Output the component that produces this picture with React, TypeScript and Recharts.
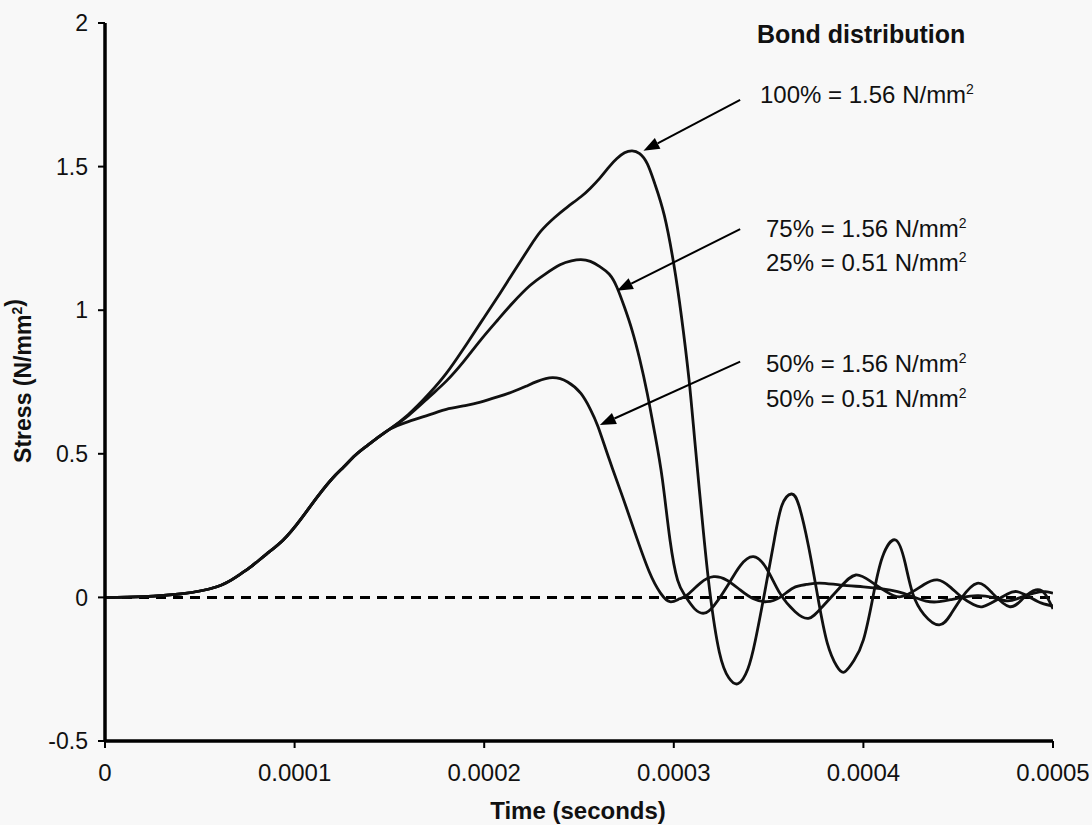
import React from 'react';
import { LineChart, Line, XAxis, YAxis, ReferenceLine } from 'recharts';

// time in microseconds, stress in N/mm²
const riseTime = [0, 20, 40, 59, 70, 77, 85, 94, 103, 112, 120, 126, 132, 138, 144, 150];
const riseStress = [0, 0.003, 0.012, 0.037, 0.075, 0.107, 0.15, 0.2, 0.27, 0.35, 0.415, 0.455, 0.495, 0.527, 0.557, 0.585];

// 100% = 1.56 N/mm²
const bond100Time = [...riseTime, 160, 171, 180, 189, 198, 207, 215, 224, 230, 237, 244, 251, 256, 261, 266, 270, 274, 278, 282, 286, 290, 295, 300, 304, 308, 311, 315, 319, 324, 329, 334, 339, 343, 348, 353, 357, 362, 366, 371, 376, 381, 386, 390, 395, 400, 405, 410, 417, 422, 426, 432, 440, 446, 452, 460, 468, 477, 484, 491, 496, 500];
const bond100Stress = [...riseStress, 0.637, 0.71, 0.78, 0.865, 0.955, 1.045, 1.128, 1.22, 1.276, 1.322, 1.36, 1.395, 1.425, 1.46, 1.5, 1.528, 1.548, 1.555, 1.545, 1.51, 1.44, 1.33, 1.16, 0.98, 0.76, 0.55, 0.27, 0.02, -0.19, -0.28, -0.3, -0.25, -0.15, 0.02, 0.2, 0.32, 0.36, 0.32, 0.18, 0.0, -0.16, -0.24, -0.26, -0.22, -0.148, 0.0, 0.14, 0.2, 0.12, 0.014, -0.06, -0.096, -0.06, 0.0, 0.049, 0.015, -0.032, -0.005, 0.026, 0.01, -0.04];

// 75% = 1.56, 25% = 0.51 N/mm²
const bond75Time = [...riseTime, 160, 171, 180, 189, 198, 207, 215, 224, 232, 240, 246, 251, 256, 261, 266, 270, 274, 278, 282, 286, 290, 294, 298, 302, 306, 311, 316, 321, 328, 335, 342, 349, 356, 364, 371, 378, 388, 396, 404, 412, 419, 426, 432, 439, 446, 452, 458, 463, 470, 476, 481, 488, 494, 500];
const bond75Stress = [...riseStress, 0.633, 0.698, 0.753, 0.82, 0.895, 0.965, 1.025, 1.085, 1.125, 1.158, 1.172, 1.176, 1.17, 1.152, 1.125, 1.08, 1.01, 0.93, 0.83, 0.71, 0.57, 0.41, 0.2, 0.06, 0.005, -0.04, -0.055, -0.03, 0.037, 0.11, 0.142, 0.1, 0.014, -0.05, -0.073, -0.035, 0.037, 0.078, 0.055, 0.02, 0.002, 0.02, 0.045, 0.061, 0.035, 0.0, -0.025, -0.032, -0.01, 0.012, 0.02, 0.0, -0.02, -0.03];

// 50% = 1.56, 50% = 0.51 N/mm²
const bond50Time = [...riseTime, 160, 173, 180, 190, 198, 207, 215, 222, 228, 236, 244, 251, 256, 260, 266, 273, 279, 287, 293, 298, 303, 307, 314, 321, 328, 335, 342, 349, 356, 363, 370, 377, 388, 400, 410, 418, 425, 433, 440, 446, 452, 460, 468, 476, 483, 490, 496, 500];
const bond50Stress = [...riseStress, 0.612, 0.64, 0.655, 0.668, 0.68, 0.698, 0.716, 0.735, 0.752, 0.765, 0.75, 0.71, 0.655, 0.595, 0.48, 0.35, 0.235, 0.09, 0.015, -0.015, -0.005, 0.008, 0.05, 0.072, 0.06, 0.026, -0.005, -0.015, 0.0, 0.033, 0.045, 0.05, 0.043, 0.037, 0.03, 0.02, 0.005, -0.013, -0.015, -0.008, 0.0, 0.006, 0.0, -0.012, 0.0, 0.015, 0.02, 0.015];

const xTicks = [0, 100, 200, 300, 400, 500];
const yTicks = [-0.5, 0, 0.5, 1, 1.5, 2];

// arrows: [tail time, tail stress, tip time, tip stress]
const arrows = [
  [335, 1.732, 284, 1.555],
  [335, 1.282, 270, 1.068],
  [335, 0.821, 261, 0.6],
];

const toRows = (t: number[], s: number[]) => t.map((time, i) => ({ time, stress: s[i] }));
const bond100 = toRows(bond100Time, bond100Stress);
const bond75 = toRows(bond75Time, bond75Stress);
const bond50 = toRows(bond50Time, bond50Stress);

const fmtX = (v: number) => (v === 0 ? '0' : (v / 1e6).toFixed(4));

const Arrow = (props: any) => {
  const { x1, y1, x2, y2 } = props;
  const ang = Math.atan2(y2 - y1, x2 - x1);
  const len = 16;
  const half = 6;
  const bx = x2 - len * Math.cos(ang);
  const by = y2 - len * Math.sin(ang);
  const p1 = `${bx + half * Math.sin(ang)},${by - half * Math.cos(ang)}`;
  const p2 = `${bx - half * Math.sin(ang)},${by + half * Math.cos(ang)}`;
  return (
    <g>
      <line x1={x1} y1={y1} x2={bx} y2={by} stroke="#000" strokeWidth={2} />
      <polygon points={`${x2},${y2} ${p1} ${p2}`} fill="#000" />
    </g>
  );
};

const Unit = () => (
  <>
    N/mm<tspan dy={-9} fontSize={14}>2</tspan>
  </>
);

export default function App() {
  const lineProps = {
    type: 'natural' as const,
    dataKey: 'stress',
    stroke: '#111',
    strokeWidth: 2.8,
    dot: false,
    isAnimationActive: false,
  };
  return (
    <div style={{ position: 'absolute', left: 0, top: 0, width: 1092, height: 825, background: '#f8f8f8', fontFamily: '"Liberation Sans", Arial, sans-serif' }}>
      <LineChart width={1092} height={825} margin={{ top: 23, right: 39, bottom: 0, left: 0 }}>
        <XAxis
          dataKey="time"
          type="number"
          domain={[0, 500]}
          ticks={xTicks}
          tickFormatter={fmtX}
          height={84}
          axisLine={{ stroke: '#000', strokeWidth: 3.5 }}
          tickLine={{ stroke: '#000', strokeWidth: 2 }}
          tickSize={7}
          tickMargin={16}
          tick={{ fill: '#111', fontSize: 24 }}
          allowDataOverflow
        />
        <YAxis
          type="number"
          domain={[-0.5, 2]}
          ticks={yTicks}
          width={105}
          axisLine={{ stroke: '#000', strokeWidth: 3.5 }}
          tickLine={{ stroke: '#000', strokeWidth: 2 }}
          tickSize={7}
          tickMargin={10}
          tick={{ fill: '#111', fontSize: 23 }}
          allowDataOverflow
        />
        <ReferenceLine y={0} stroke="#000" strokeWidth={3} strokeDasharray="10 7" />
        <Line {...lineProps} data={bond50} />
        <Line {...lineProps} data={bond75} />
        <Line {...lineProps} data={bond100} />
        {arrows.map((a, i) => (
          <ReferenceLine
            key={i}
            segment={[{ x: a[0], y: a[1] }, { x: a[2], y: a[3] }]}
            shape={Arrow}
            ifOverflow="visible"
          />
        ))}
      </LineChart>
      <svg width={1092} height={825} style={{ position: 'absolute', left: 0, top: 0, pointerEvents: 'none' }}>
        <g fill="#111" fontSize={24}>
          <text x={757} y={43} fontWeight="bold" fontSize={25}>Bond distribution</text>
          <text x={760} y={103}>100% = 1.56 <Unit /></text>
          <text x={766} y={237}>75% = 1.56 <Unit /></text>
          <text x={766} y={271}>25% = 0.51 <Unit /></text>
          <text x={766} y={372}>50% = 1.56 <Unit /></text>
          <text x={766} y={407}>50% = 0.51 <Unit /></text>
          <text x={578} y={819} fontWeight="bold" textAnchor="middle">Time (seconds)</text>
          <text x={31} y={381} fontWeight="bold" fontSize={23} textAnchor="middle" transform="rotate(-90 31 381)">
            Stress (<Unit />)
          </text>
        </g>
      </svg>
    </div>
  );
}
